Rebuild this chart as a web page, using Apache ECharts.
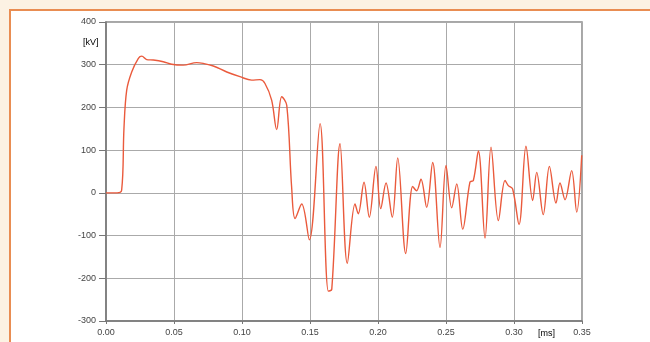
<!DOCTYPE html>
<html>
<head>
<meta charset="utf-8">
<script src="https://cdn.jsdelivr.net/npm/echarts@6/dist/echarts.min.js"></script>
<style>
html,body{margin:0;padding:0;background:#fcf2e3;}
#c{width:650px;height:342px;}
</style>
</head>
<body>
<div id="c"></div>
<script>
var timeMs = [0, 0.0081, 0.0115, 0.0132, 0.0152, 0.0189, 0.0238, 0.0263, 0.0299, 0.0348, 0.0421, 0.0483, 0.0568, 0.0667, 0.0715, 0.0789, 0.0888, 0.0985, 0.1071, 0.1132, 0.1169, 0.1218, 0.1255, 0.1292, 0.1329, 0.1365, 0.1390, 0.1439, 0.1495, 0.1574, 0.1635, 0.1660, 0.1721, 0.1774, 0.1831, 0.1855, 0.1897, 0.1936, 0.1985, 0.2020, 0.2059, 0.2105, 0.2145, 0.2204, 0.2255, 0.2284, 0.2316, 0.2358, 0.2402, 0.2456, 0.2500, 0.2542, 0.2579, 0.2623, 0.2676, 0.2701, 0.2738, 0.2787, 0.2831, 0.2885, 0.2934, 0.2958, 0.2990, 0.3037, 0.3088, 0.3137, 0.3167, 0.3215, 0.3260, 0.3309, 0.3338, 0.3375, 0.3424, 0.3461, 0.3498];
var voltageKV = [0, 0, 6, 150, 240, 283, 315, 320, 312, 311, 307, 301, 299, 305, 303, 297, 283, 272, 264, 265, 256, 217, 148, 225, 205, 13, -60, -26, -110, 162, -230, -226, 115, -165, -26, -49, 25, -57, 62, -37, 23, -57, 82, -142, 15, 5, 32, -34, 71, -128, 64, -35, 21, -85, 25, 29, 98, -106, 107, -65, 29, 17, 9, -74, 109, -18, 48, -51, 62, -24, 23, -16, 52, -45, 88];
var xTicks = ['0.00','0.05','0.10','0.15','0.20','0.25','0.30','0.35'];
var yTicks = [-300,-200,-100,0,100,200,300,400];

var data = timeMs.map(function(t,i){return [t, voltageKV[i]];});
var chart = echarts.init(document.getElementById('c'), null, {renderer:'canvas'});
var lblStyle = {color:'#444', fontSize:9, fontFamily:'Liberation Sans, Arial, sans-serif'};
chart.setOption({
  backgroundColor:'#fcf2e3',
  animation:false,
  graphic:[
    {type:'rect', z:-10, shape:{x:10,y:10,width:700,height:400}, style:{fill:'#ffffff', stroke:'#e98d52', lineWidth:2}},
    {type:'text', z:10, left:83, top:38, style:Object.assign({text:'[kV]'}, lblStyle)},
    {type:'text', z:10, left:538, top:329, style:Object.assign({text:'[ms]'}, lblStyle)}
  ],
  grid:{left:106, right:68, top:22, bottom:21, show:true, borderColor:'#8a8a8a', borderWidth:1.5, backgroundColor:'transparent'},
  xAxis:{
    type:'value', min:0, max:0.35, interval:0.05,
    axisLine:{show:true, onZero:false, lineStyle:{color:'#777', width:1.5}},
    axisTick:{show:true, length:3, lineStyle:{color:'#777'}},
    axisLabel:Object.assign({margin:7, formatter:function(v){var i=Math.round(v/0.05);return xTicks[i]===undefined?'':xTicks[i];}}, lblStyle),
    splitLine:{show:true, lineStyle:{color:'#aaaaaa', width:1}}
  },
  yAxis:{
    type:'value', min:-300, max:400, interval:100,
    axisLine:{show:true, onZero:false, lineStyle:{color:'#777', width:1.5}},
    axisTick:{show:true, length:7, lineStyle:{color:'#777'}},
    axisLabel:Object.assign({margin:10, formatter:function(v){return yTicks.indexOf(v)>=0?String(v):'';}}, lblStyle),
    splitLine:{show:true, lineStyle:{color:'#aaaaaa', width:1}}
  },
  series:[{
    type:'line', data:data, smooth:0.35, symbol:'none',
    lineStyle:{color:'#ea5a3c', width:1.4}
  }]
});
</script>
</body>
</html>
